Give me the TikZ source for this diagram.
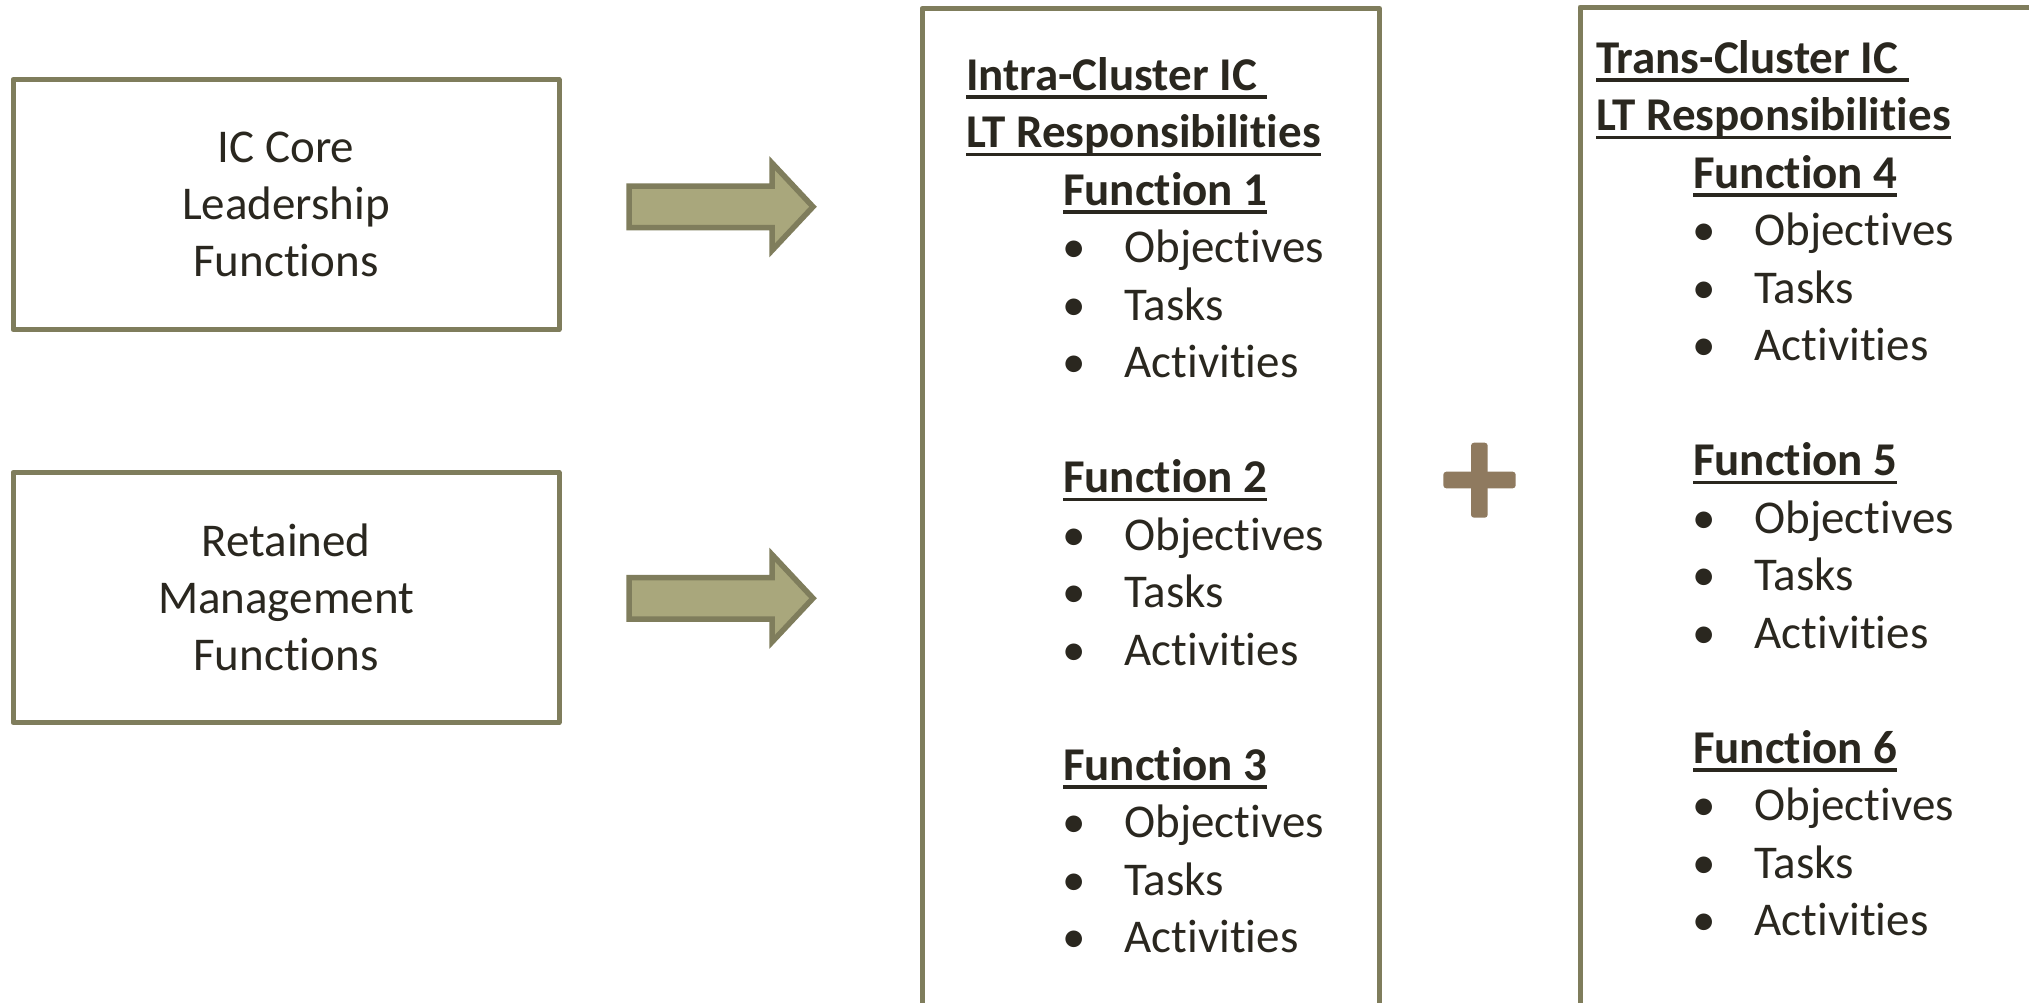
\documentclass[tikz,border=0pt]{standalone}
\usepackage{fontspec}
\setmainfont{Carlito}[Ligatures=CommonOff]
\definecolor{frameC}{RGB}{127,125,92}
\definecolor{arrowC}{RGB}{169,167,124}
\definecolor{plusC}{RGB}{143,122,95}
\definecolor{textC}{RGB}{42,39,31}
\newcommand\ulx[1]{\setbox0\hbox{#1}\rlap{\rule[-8.5pt]{\wd0}{3.5pt}}\box0}
\tikzset{
  frame/.style={draw=frameC, line width=5pt, line join=round, inner sep=0pt, outer sep=0pt},
  lbox/.style={frame, minimum width=546pt, minimum height=250pt, align=center,
    text=textC, font=\fontsize{47pt}{57pt}\selectfont},
  txt/.style={inner sep=0pt, outer sep=0pt, text=textC, font=\fontsize{47pt}{57.5pt}\selectfont},
  hd/.style={txt, font=\fontsize{47pt}{57.5pt}\selectfont\bfseries, anchor=base west},
  blockarrow/.style={draw=frameC, fill=arrowC, line width=5.5pt, line join=miter},
}
\begin{document}
\begin{tikzpicture}[x=1pt,y=-1pt]
\useasboundingbox (0,0) rectangle (2029,1002);
\fill[white] (0,0) rectangle (2029,1002);
\begin{scope}
\clip (0,0) rectangle (2029,1002);
% left boxes
\node[lbox] (core) at (286,204.5) {IC Core\\Leadership\\Functions};
\node[lbox] (ret) at (286,597.5) {Retained\\Management\\Functions};
% big boxes (cut by the page edge)
\node[frame, anchor=north west, minimum width=457.5pt, minimum height=1030pt] (mid) at (922,8.5) {};
\node[frame, anchor=north west, minimum width=480pt, minimum height=1030pt] (rgt) at (1580,7) {};
% block arrows
\draw[blockarrow] (629,186) -- (772,186) -- (772,163) -- (813,206.75) -- (772,250.5) -- (772,227.5) -- (629,227.5) -- cycle;
\draw[blockarrow] (629,577.5) -- (772,577.5) -- (772,554.5) -- (813,598.25) -- (772,642) -- (772,619) -- (629,619) -- cycle;
% plus sign
\fill[plusC, rounded corners=3pt] (1443.3,471.7) rectangle (1515.7,488.3);
\fill[plusC, rounded corners=3pt] (1471,442.7) rectangle (1487.7,517.7);
% headings
\node[hd] (midh1) at (966,90) {\ulx{Intra-Cluster IC\ }};
\node[hd] (midh2) at (966,147.5) {\ulx{LT Responsibilities}};
\node[hd] (rgth1) at (1596,73) {\ulx{Trans-Cluster IC\ }};
\node[hd] (rgth2) at (1596,130.5) {\ulx{LT Responsibilities}};
% function groups
\foreach \x/\y/\n in {1063/205/1, 1063/492.5/2, 1063/780/3, 1693/188/4, 1693/475.5/5, 1693/763/6} {
  \node[hd] (fn\n) at (\x,\y) {\ulx{Function \n}};
  \foreach \w [count=\i] in {Objectives,Tasks,Activities} {
    \node[txt, anchor=base] (fn\n-b\i) at ({\x+11},{\y+57.5*\i}) {•};
    \node[txt, anchor=base west] (fn\n-t\i) at ({\x+61.5},{\y+57.5*\i}) {\w};
  }
}
\end{scope}
\end{tikzpicture}
\end{document}
